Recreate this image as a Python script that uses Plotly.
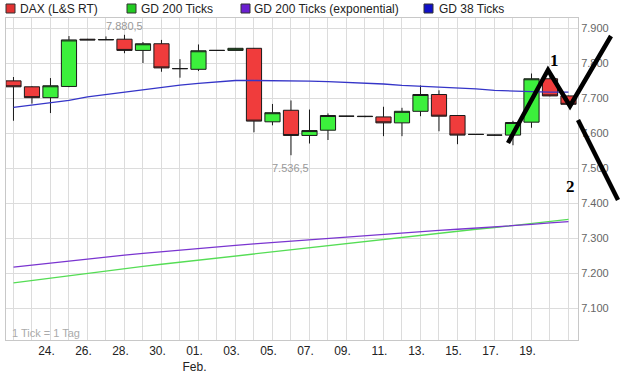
import plotly.graph_objects as go

# ---------------- data ----------------
dates = ["2013-01-22", "2013-01-23", "2013-01-24", "2013-01-25", "2013-01-26", "2013-01-27",
         "2013-01-28", "2013-01-29", "2013-01-30", "2013-01-31", "2013-02-01", "2013-02-02",
         "2013-02-03", "2013-02-04", "2013-02-05", "2013-02-06", "2013-02-07", "2013-02-08",
         "2013-02-09", "2013-02-10", "2013-02-11", "2013-02-12", "2013-02-13", "2013-02-14",
         "2013-02-15", "2013-02-16", "2013-02-17", "2013-02-18", "2013-02-19", "2013-02-20",
         "2013-02-21"]
dax_open = [7749, 7732, 7701, 7733, 7868, 7866, 7868, 7836, 7855, 7784, 7782, 7836, 7836, 7842,
            7632, 7665, 7593, 7608, 7648, 7648, 7646, 7629, 7662, 7710, 7650, 7596, 7594, 7594,
            7631, 7755, 7706]
dax_high = [7760, 7734, 7757, 7877, 7869, 7876, 7880.5, 7860, 7866, 7811, 7853, 7837, 7843, 7843,
            7683, 7693, 7667, 7656, 7649, 7649, 7675, 7672, 7736, 7722, 7651, 7597, 7595, 7635,
            7770, 7775, 7707]
dax_low = [7635, 7684, 7657, 7731, 7866, 7866, 7828, 7800, 7775, 7758, 7777, 7835, 7836, 7602,
           7622, 7536.5, 7570, 7580, 7647, 7645, 7591, 7591, 7648, 7605, 7568, 7595, 7593, 7565,
           7615, 7705, 7680]
dax_close = [7732, 7701, 7735, 7866, 7866, 7867, 7836, 7855, 7786, 7784, 7835, 7836, 7842, 7634,
             7658, 7593, 7607, 7650, 7648, 7647, 7629, 7662, 7710, 7648, 7594, 7596, 7594, 7630,
             7755, 7706, 7682]
gd200 = [7172, 7179, 7186, 7193, 7199, 7206, 7212, 7219, 7225, 7231, 7237, 7243, 7249, 7255,
         7261, 7267, 7273, 7279, 7285, 7291, 7297, 7303, 7309, 7314, 7319, 7325, 7330, 7336,
         7341, 7347, 7353]
gd200_exp = [7217, 7223, 7229, 7235, 7240, 7246, 7251, 7256, 7261, 7266, 7270, 7275, 7279, 7283,
             7287, 7292, 7296, 7300, 7304, 7307, 7311, 7315, 7318, 7322, 7325, 7328, 7332, 7335,
             7339, 7343, 7347]
gd38 = [7673, 7680, 7686, 7693, 7703, 7710, 7717, 7723, 7730, 7737, 7742, 7746, 7750, 7750,
        7750, 7750, 7748, 7747, 7745, 7742, 7740, 7736, 7734, 7732, 7729, 7726, 7722, 7719,
        7718, 7717, 7717]
tick_dates = ["2013-01-24", "2013-01-26", "2013-01-28", "2013-01-30", "2013-02-01", "2013-02-03",
              "2013-02-05", "2013-02-07", "2013-02-09", "2013-02-11", "2013-02-13", "2013-02-15",
              "2013-02-17", "2013-02-19"]
tick_labels = ["24.", "26.", "28.", "30.", "01.<br>Feb.", "03.", "05.", "07.", "09.", "11.",
               "13.", "15.", "17.", "19."]
legend_names = ["DAX (L&S RT)", "GD 200 Ticks", "GD 200 Ticks (exponential)", "GD 38 Ticks"]
legend_colors = ["#e23232", "#22cc22", "#6a1fd0", "#1010c8"]

# ---------------- layout helpers (pixel -> paper) ----------------
W, H = 627, 374
L, R, T, B = 6, 578, 18, 340


def px(x):
    return (x - L) / (R - L)


def py(y):
    return (B - y) / (B - T)


fig = go.Figure()

fig.add_trace(go.Scatter(x=dates, y=gd200, mode="lines", line=dict(color="#55dd55", width=1.3),
                         name="GD 200 Ticks", showlegend=False, hoverinfo="skip"))
fig.add_trace(go.Scatter(x=dates, y=gd200_exp, mode="lines", line=dict(color="#7a35d0", width=1.3),
                         name="GD 200 Ticks (exponential)", showlegend=False, hoverinfo="skip"))
fig.add_trace(go.Scatter(x=dates, y=gd38, mode="lines", line=dict(color="#3535c8", width=1.3),
                         name="GD 38 Ticks", showlegend=False, hoverinfo="skip"))
fig.add_trace(go.Candlestick(
    x=dates, open=dax_open, high=dax_high, low=dax_low, close=dax_close,
    increasing=dict(line=dict(color="#1a1a1a", width=1), fillcolor="#3cf03c"),
    decreasing=dict(line=dict(color="#1a1a1a", width=1), fillcolor="#f03c3c"),
    whiskerwidth=0, name="DAX (L&S RT)", showlegend=False))

shapes = []
annotations = []

# manual legend
legend_sq_x = [6, 127, 241, 424]
legend_tx_x = [18, 139, 252, 437]
for name, col, sx, tx in zip(legend_names, legend_colors, legend_sq_x, legend_tx_x):
    shapes.append(dict(type="rect", xref="paper", yref="paper", x0=px(sx), x1=px(sx + 9),
                       y0=py(13), y1=py(4), fillcolor=col, line=dict(color="#333333", width=1)))
    annotations.append(dict(xref="paper", yref="paper", x=px(tx), y=py(8.5), text=name,
                            showarrow=False, xanchor="left", yanchor="middle",
                            font=dict(family="Liberation Sans, Arial", size=12, color="#222222")))

# high / low labels
hi_i = dax_high.index(max(dax_high))
lo_i = dax_low.index(min(dax_low))
annotations.append(dict(x=dates[hi_i], y=dax_high[hi_i], text="7.880,5", showarrow=False,
                        yanchor="bottom", yshift=1,
                        font=dict(family="Liberation Sans, Arial", size=11, color="#999999")))
annotations.append(dict(x=dates[lo_i], y=dax_low[lo_i], text="7.536,5", showarrow=False,
                        yanchor="top", yshift=-5,
                        font=dict(family="Liberation Sans, Arial", size=11, color="#999999")))
annotations.append(dict(xref="paper", yref="paper", x=px(10), y=py(333), text="1 Tick = 1 Tag",
                        showarrow=False, xanchor="left", yanchor="middle",
                        font=dict(family="Liberation Sans, Arial", size=11, color="#aaaaaa")))

# hand-drawn wave annotations
p1 = [(508, 143), (548, 70), (570, 106), (611, 36)]
path1 = "M " + " L ".join(f"{px(a)},{py(b)}" for a, b in p1)
shapes.append(dict(type="path", xref="paper", yref="paper", path=path1,
                   line=dict(color="black", width=4.5)))
shapes.append(dict(type="line", xref="paper", yref="paper", x0=px(578), y0=py(120),
                   x1=px(618), y1=py(200), line=dict(color="black", width=4.5)))
annotations.append(dict(xref="paper", yref="paper", x=px(561), y=py(49), text="<b>1</b>",
                        showarrow=False, font=dict(family="Liberation Serif", size=17, color="black")))
annotations.append(dict(xref="paper", yref="paper", x=px(577), y=py(186), text="<b>2</b>",
                        showarrow=False, font=dict(family="Liberation Serif", size=17, color="black")))

fig.update_layout(
    width=W, height=H, autosize=False,
    margin=dict(l=L, r=W - R, t=T, b=H - B, pad=0, autoexpand=False),
    paper_bgcolor="white", plot_bgcolor="white",
    separators=",.",
    boxgap=0.18, boxgroupgap=0,
    showlegend=False,
    shapes=shapes, annotations=annotations,
    xaxis=dict(
        type="date", automargin=False,
        range=["2013-01-21 14:18", "2013-02-21 12:20"],
        tickmode="array", tickvals=tick_dates, ticktext=tick_labels,
        showgrid=True, gridcolor="#dcdcdc", gridwidth=1,
        minor=dict(tickmode="linear", tick0="2013-01-22", dtick=86400000,
                   showgrid=True, gridcolor="#dcdcdc", gridwidth=1, ticks=""),
        ticks="", ticklabelshift=-4, showline=True, mirror=True, linecolor="#c8c8c8", linewidth=1,
        tickfont=dict(family="Liberation Sans, Arial", size=12, color="#222222"),
        rangeslider=dict(visible=False), zeroline=False, fixedrange=True,
    ),
    yaxis=dict(
        side="right", automargin=False,
        range=[7008.6, 7928.6], tickmode="linear", tick0=7000, dtick=100,
        tickformat=",d", showgrid=True, gridcolor="#dcdcdc", gridwidth=1,
        ticks="", ticklabelstandoff=0,
        showline=True, mirror=True, linecolor="#c8c8c8", linewidth=1,
        tickfont=dict(family="Liberation Sans, Arial", size=11, color="#666666"),
        zeroline=False, fixedrange=True,
    ),
)

fig.write_html("out.html", config={"displayModeBar": False, "staticPlot": True},
               post_script="document.body.style.margin='0';document.body.style.padding='0';"
                           "document.body.style.overflow='hidden';")
